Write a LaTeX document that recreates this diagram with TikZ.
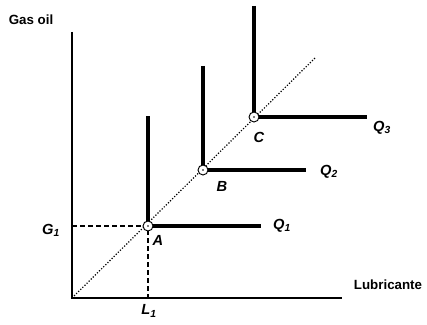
\documentclass[tikz,border=0pt]{standalone}
\usepackage{fontspec}
\setmainfont{Liberation Sans}
\begin{document}
\begin{tikzpicture}[x=0.75pt,y=-0.75pt,
    axis/.style={line width=1pt},
    iso/.style={line width=2.6pt},
    guide/.style={dash pattern=on 3.5pt off 2.5pt,line width=1.1pt},
    lbl/.style={font=\fontsize{11}{13}\selectfont\bfseries\itshape,inner sep=1pt},
    ttl/.style={font=\fontsize{10}{12}\selectfont\bfseries,inner sep=1pt},
    pt/.style={circle,draw,fill=white,line width=0.7pt,minimum size=7.5pt,inner sep=0pt}]
    \useasboundingbox (0,0) rectangle (427,324);
    % axes
    \coordinate (O) at (72,298);
    \coordinate (Ytop) at (72,32);
    \coordinate (Xend) at (342,298);
    \draw[axis] (Ytop) -- (O) -- (Xend);
    \node[ttl] (ylab) at (31,20) {Gas oil};
    \node[ttl] (xlab) at (388,285) {Lubricante};
    % diagonal
    \coordinate (D) at (316,57);
    \draw[dash pattern=on 0.9pt off 1.3pt,line width=0.9pt] (O) -- (D);
    % isoquants
    \coordinate (A) at (148,226);
    \coordinate (B) at (203,170);
    \coordinate (C) at (254,117);
    \draw[iso] (148,116) -- (A) -- (261,226);
    \draw[iso] (203,66) -- (B) -- (306,170);
    \draw[iso] (254,6) -- (C) -- (367,117);
    % guides
    \coordinate (G) at (72,226);
    \coordinate (L) at (148,298);
    \draw[guide] (G) -- (A) -- (L);
    \foreach \p in {A,B,C}
        \node[pt] (p\p) at (\p) {};
    \foreach \p in {A,B,C}
        \fill (\p) circle (0.6pt);
    % labels
    \node[lbl] (lA) at (158,240) {A};
    \node[lbl] (lB) at (222,186) {B};
    \node[lbl] (lC) at (259,137) {C};
    \node[lbl] (lG) at (51,230) {G\textsubscript{1}};
    \node[lbl] (lL) at (149,311) {L\textsubscript{1}};
    \node[lbl] (q1) at (282,226) {Q\textsubscript{1}};
    \node[lbl] (q2) at (329,172) {Q\textsubscript{2}};
    \node[lbl] (q3) at (382,128) {Q\textsubscript{3}};
\end{tikzpicture}
\end{document}
